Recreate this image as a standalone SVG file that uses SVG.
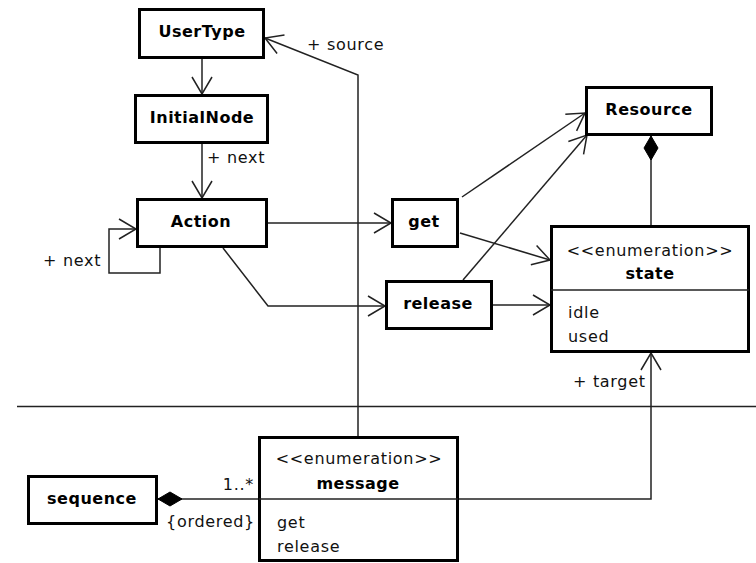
<svg xmlns="http://www.w3.org/2000/svg" width="756" height="563" viewBox="0 0 756 563">
  <defs>
    <style>
      .box { fill: #ffffff; stroke: #000000; stroke-width: 3; }
      .sep { stroke: #222222; stroke-width: 1.5; fill: none; }
      .edge { fill: none; stroke: #222222; stroke-width: 1.5; }
      .name { font-family: "DejaVu Sans", Verdana, sans-serif; font-weight: bold; font-size: 16px; letter-spacing: 0.5px; fill: #000; text-anchor: middle; }
      .txt { font-family: "DejaVu Sans", Verdana, sans-serif; font-size: 16px; letter-spacing: 0.7px; fill: #111; }
      .mid { text-anchor: middle; }
      .end { text-anchor: end; }
    </style>
    <marker id="open" viewBox="-20 -12 24 24" refX="0" refY="0" markerWidth="24" markerHeight="24" orient="auto" markerUnits="userSpaceOnUse">
      <path d="M-17,-10 L0,0 L-17,10" fill="none" stroke="#222222" stroke-width="1.5"/>
    </marker>
    <marker id="diamond" viewBox="-2 -10 30 20" refX="0" refY="0" markerWidth="30" markerHeight="20" orient="auto" markerUnits="userSpaceOnUse">
      <path d="M0,0 L12,-7 L24,0 L12,7 Z" fill="#000000" stroke="#000000" stroke-width="1"/>
    </marker>
  </defs>

  <rect x="0" y="0" width="756" height="563" fill="#ffffff"/>

  <!-- package divider -->
  <line class="sep" x1="17" y1="406.5" x2="756" y2="406.5"/>

  <!-- connectors -->
  <g id="connectors">
    <path class="edge" d="M202,59 L202,94" marker-end="url(#open)"/>
    <path class="edge" d="M202,144 L202,198" marker-end="url(#open)"/>
    <path class="edge" d="M160,248 L160,273 L109,273 L109,229 L136,229" marker-end="url(#open)"/>
    <path class="edge" d="M268,223 L391,223" marker-end="url(#open)"/>
    <path class="edge" d="M223,248 L268,306 L385,306" marker-end="url(#open)"/>
    <path class="edge" d="M462,197 L585,113" marker-end="url(#open)"/>
    <path class="edge" d="M460,233 L550,260" marker-end="url(#open)"/>
    <path class="edge" d="M463,280 L587,135" marker-end="url(#open)"/>
    <path class="edge" d="M493,305 L550,305" marker-end="url(#open)"/>
    <path class="edge" d="M651,136 L651,225" marker-start="url(#diamond)"/>
    <path class="edge" d="M358,436 L358,75 L265,38" marker-end="url(#open)"/>
    <path class="edge" d="M459,499 L651,499 L651,353" marker-end="url(#open)"/>
    <path class="edge" d="M158,499 L258,499" marker-start="url(#diamond)"/>
    <text class="txt" x="307" y="50">+ source</text>
    <text class="txt" x="207" y="163">+ next</text>
    <text class="txt" x="43" y="266">+ next</text>
    <text class="txt" x="573" y="387">+ target</text>
    <text class="txt end" x="254" y="490">1..*</text>
    <text class="txt end" x="255" y="527">{ordered}</text>
  </g>

  <g id="UserType">
    <rect class="box" x="139.5" y="9.5" width="124" height="48"/>
    <text class="name" x="202" y="37">UserType</text>
  </g>

  <g id="InitialNode">
    <rect class="box" x="135.5" y="95.5" width="132" height="47"/>
    <text class="name" x="202" y="123">InitialNode</text>
  </g>

  <g id="Action">
    <rect class="box" x="137.5" y="199.5" width="129" height="47"/>
    <text class="name" x="201" y="227">Action</text>
  </g>

  <g id="get">
    <rect class="box" x="392.5" y="199.5" width="65" height="47"/>
    <text class="name" x="424" y="227">get</text>
  </g>

  <g id="release">
    <rect class="box" x="386.5" y="281.5" width="105" height="47"/>
    <text class="name" x="438" y="309">release</text>
  </g>

  <g id="Resource">
    <rect class="box" x="586.5" y="87.5" width="125" height="47"/>
    <text class="name" x="649" y="115">Resource</text>
  </g>

  <g id="state">
    <rect class="box" x="551.5" y="226.5" width="197" height="125"/>
    <text class="txt mid" x="650" y="256">&lt;&lt;enumeration&gt;&gt;</text>
    <text class="name" x="650" y="279">state</text>
    <line class="sep" x1="551" y1="290" x2="749" y2="290"/>
    <text class="txt" x="568" y="318">idle</text>
    <text class="txt" x="568" y="342">used</text>
  </g>

  <g id="sequence">
    <rect class="box" x="28.5" y="476.5" width="128" height="47"/>
    <text class="name" x="92" y="504">sequence</text>
  </g>

  <g id="message">
    <rect class="box" x="259.5" y="437.5" width="198" height="123"/>
    <text class="txt mid" x="359" y="464">&lt;&lt;enumeration&gt;&gt;</text>
    <text class="name" x="358" y="489">message</text>
    <line class="sep" x1="259" y1="499" x2="458" y2="499"/>
    <text class="txt" x="277" y="528">get</text>
    <text class="txt" x="277" y="552">release</text>
  </g>
</svg>
